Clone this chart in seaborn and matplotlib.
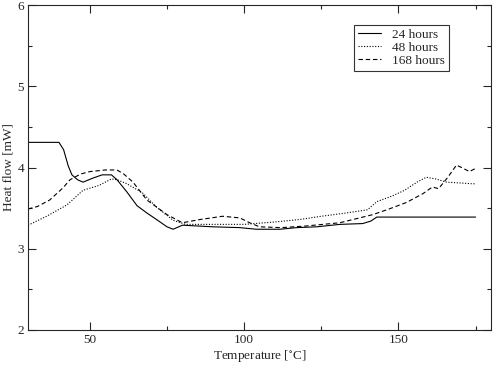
# %%
# === Load modules ===
import numpy as np
import pandas as pd
import seaborn as sns
import matplotlib
matplotlib.use('Agg')
import matplotlib.pyplot as plt
from matplotlib.ticker import MultipleLocator

# %%
# === Data ===
T_24  = [30, 40, 41.5, 43, 44.2, 46, 47.8, 51, 54, 57, 58.8, 62, 65.3, 68.5, 72, 75, 77, 80, 85, 90, 98.6, 104, 111.6, 117, 123.5, 131, 138.4, 141, 143, 150, 160, 175]
HF_24 = [4.31, 4.31, 4.22, 4.02, 3.91, 3.85, 3.82, 3.87, 3.91, 3.91, 3.85, 3.70, 3.53, 3.44, 3.35, 3.27, 3.24, 3.29, 3.28, 3.27, 3.26, 3.24, 3.24, 3.26, 3.27, 3.30, 3.31, 3.34, 3.39, 3.39, 3.39, 3.39]

T_48  = [30, 36, 42.6, 47.8, 53, 57, 58.8, 62, 67, 71.7, 77, 81, 90, 100, 110, 118, 125, 133, 140, 143, 148, 152, 156, 159, 162, 165.6, 170, 174, 175]
HF_48 = [3.29, 3.40, 3.54, 3.72, 3.78, 3.86, 3.85, 3.80, 3.69, 3.51, 3.35, 3.30, 3.30, 3.30, 3.33, 3.36, 3.40, 3.44, 3.48, 3.58, 3.65, 3.72, 3.82, 3.88, 3.86, 3.82, 3.81, 3.80, 3.80]

T_168  = [30, 33, 37, 41.3, 43.6, 47, 50, 55, 58.8, 61, 64, 68.5, 75, 80, 85.7, 93, 98.6, 101.8, 105, 112, 120, 131, 141.7, 147, 152.6, 158, 161, 163, 166, 168.8, 171, 173, 175]
HF_168 = [3.49, 3.52, 3.60, 3.75, 3.85, 3.92, 3.95, 3.97, 3.97, 3.92, 3.82, 3.60, 3.42, 3.32, 3.36, 3.40, 3.38, 3.32, 3.27, 3.26, 3.28, 3.32, 3.42, 3.49, 3.57, 3.68, 3.76, 3.74, 3.88, 4.03, 3.99, 3.95, 3.99]

LABELS = ['24 hours', '48 hours', '168 hours']

# %%
# === Build table ===
df = pd.concat([
    pd.DataFrame({'T': T_24,  'HF': HF_24,  'series': LABELS[0]}),
    pd.DataFrame({'T': T_48,  'HF': HF_48,  'series': LABELS[1]}),
    pd.DataFrame({'T': T_168, 'HF': HF_168, 'series': LABELS[2]}),
], ignore_index=True)

# %%
# === Plot ===
sns.set_style('ticks')
plt.rcParams['font.family'] = ['Liberation Serif', 'DejaVu Serif']
plt.rcParams['mathtext.fontset'] = 'stix'

fig = plt.figure(figsize=(4.93, 3.65), dpi=100)
ax = fig.add_axes([0.057, 0.096, 0.939, 0.890])

styles = {LABELS[0]: '-', LABELS[1]: (0, (1, 1.5)), LABELS[2]: (0, (4, 2.5))}
for lab in LABELS:
    sns.lineplot(data=df[df['series'] == lab], x='T', y='HF', ax=ax,
                 color='black', linewidth=0.8, linestyle=styles[lab],
                 label=lab, sort=False)

ax.set_xlim(30, 180)
ax.set_ylim(2, 6)
ax.xaxis.set_major_locator(MultipleLocator(50))
ax.xaxis.set_minor_locator(MultipleLocator(25))
ax.yaxis.set_major_locator(MultipleLocator(1))
ax.yaxis.set_minor_locator(MultipleLocator(0.5))
ax.tick_params(which='both', direction='in', top=True, right=True,
               labelsize=9.5, width=0.8, pad=3)
ax.tick_params(which='major', length=6)
ax.tick_params(which='minor', length=3)
for s in ax.spines.values():
    s.set_linewidth(0.8)

ax.set_xlabel(r'Temperature [$^{\circ}$C]', fontsize=9.5, labelpad=1)
ax.set_ylabel('Heat flow [mW]', fontsize=9.5, labelpad=2)

leg = ax.legend(loc='upper left', bbox_to_anchor=(0.69, 0.96), fontsize=9.5,
                frameon=True, fancybox=False, edgecolor='black',
                handlelength=1.7, borderpad=0.3, labelspacing=0.05,
                handletextpad=0.9)
leg.get_frame().set_linewidth(0.8)

plt.savefig('out.png', dpi=100)
